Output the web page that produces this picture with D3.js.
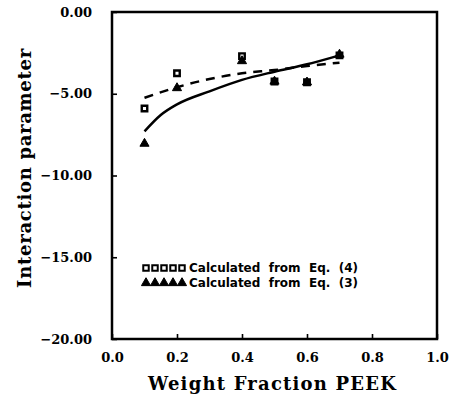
<!DOCTYPE html>
<html>
<head>
<meta charset="utf-8">
<script src="https://cdn.jsdelivr.net/npm/d3@7"></script>
<style>
  body { margin: 0; background: #fff; }
  text { fill: #000; }
</style>
</head>
<body>
<script>
// #Data
const eq4X = [0.10, 0.20, 0.40, 0.50, 0.60, 0.70];
const eq4Y = [-5.9, -3.75, -2.7, -4.25, -4.3, -2.65];
const eq3X = [0.10, 0.20, 0.40, 0.50, 0.60, 0.70];
const eq3Y = [-8.05, -4.65, -3.0, -4.25, -4.3, -2.6];

// fitted curves
const solidX = [0.10, 0.15, 0.20, 0.30, 0.40, 0.50, 0.60, 0.70];
const solidY = [-7.3, -6.3, -5.65, -4.85, -4.15, -3.65, -3.2, -2.65];
const dashX = [0.10, 0.20, 0.30, 0.40, 0.50, 0.60, 0.70];
const dashY = [-5.25, -4.6, -4.1, -3.75, -3.55, -3.3, -3.1];

const xTicks = [0.0, 0.2, 0.4, 0.6, 0.8, 1.0];
const yTicks = [0, -5, -10, -15, -20];
const legendLabels = ['Calculated  from  Eq.  (4)', 'Calculated  from  Eq.  (3)'];

// #Define SVG
const width = 453, height = 396;
const svg = d3.select('body')
              .append('svg')
              .attr('width', width)
              .attr('height', height);

const plotL = 112, plotR = 437, plotT = 12, plotB = 339;

const x = d3.scaleLinear().domain([0, 1]).range([plotL, plotR]);
const y = d3.scaleLinear().domain([-20, 0]).range([plotB, plotT]);

const font = '"DejaVu Serif", "Liberation Serif", serif';

// #Axes
const xAxis = d3.axisBottom(x)
                .tickValues(xTicks)
                .tickSize(-5)
                .tickFormat(d3.format('.1f'));
const yAxis = d3.axisLeft(y)
                .tickValues(yTicks)
                .tickSize(-5)
                .tickFormat(d3.format('.2f'));

const gx = svg.append('g')
              .attr('transform', 'translate(0,' + plotB + ')')
              .call(xAxis);
gx.select('.domain').remove();
gx.selectAll('line').attr('stroke', '#000').attr('stroke-width', 1.6);
gx.selectAll('text')
  .attr('y', 14)
  .attr('dy', '0.71em')
  .style('font-family', font)
  .style('font-weight', 'bold')
  .style('font-size', '13px');

const gy = svg.append('g')
              .attr('transform', 'translate(' + plotL + ',0)')
              .call(yAxis);
gy.select('.domain').remove();
gy.selectAll('line').attr('stroke', '#000').attr('stroke-width', 1.6);
gy.selectAll('text')
  .attr('x', -20)
  .style('font-family', font)
  .style('font-weight', 'bold')
  .style('font-size', '13px')
  .text(d => d3.format('.2f')(d).replace('-', '\u2212'));

// #Frame
svg.append('rect')
   .attr('x', plotL)
   .attr('y', plotT)
   .attr('width', plotR - plotL)
   .attr('height', plotB - plotT)
   .attr('fill', 'none')
   .attr('stroke', '#000')
   .attr('stroke-width', 2.5);

// #Axis titles
svg.append('text')
   .attr('x', (plotL + plotR) / 2 - 2)
   .attr('y', 390)
   .attr('text-anchor', 'middle')
   .style('font-family', font)
   .style('font-weight', 'bold')
   .style('font-size', '18px')
   .style('letter-spacing', '1.2px')
   .text('Weight Fraction PEEK');

svg.append('text')
   .attr('transform', 'translate(31,168) rotate(-90)')
   .attr('text-anchor', 'middle')
   .style('font-family', font)
   .style('font-weight', 'bold')
   .style('font-size', '18px')
   .style('letter-spacing', '0.7px')
   .text('Interaction parameter');

// #Curves
const line = d3.line()
               .x(d => x(d[0]))
               .y(d => y(d[1]))
               .curve(d3.curveMonotoneX);

svg.append('path')
   .datum(d3.zip(solidX, solidY))
   .attr('d', line)
   .attr('fill', 'none')
   .attr('stroke', '#000')
   .attr('stroke-width', 2.5);

svg.append('path')
   .datum(d3.zip(dashX, dashY))
   .attr('d', line)
   .attr('fill', 'none')
   .attr('stroke', '#000')
   .attr('stroke-width', 2.5)
   .attr('stroke-dasharray', '9,7');

// #Markers
const square = d3.symbol().type(d3.symbolSquare).size(30);
const triangle = d3.symbol().type(d3.symbolTriangle).size(36);

svg.append('g')
   .selectAll('path')
   .data(d3.zip(eq4X, eq4Y))
   .enter()
   .append('path')
   .attr('d', square)
   .attr('transform', d => 'translate(' + x(d[0]) + ',' + y(d[1]) + ')')
   .attr('fill', '#fff')
   .attr('stroke', '#000')
   .attr('stroke-width', 2.4);

svg.append('g')
   .selectAll('path')
   .data(d3.zip(eq3X, eq3Y))
   .enter()
   .append('path')
   .attr('d', triangle)
   .attr('transform', d => 'translate(' + x(d[0]) + ',' + y(d[1]) + ')')
   .attr('fill', '#000')
   .attr('stroke', '#000')
   .attr('stroke-width', 1);

// #Legend
const legend = svg.append('g').attr('transform', 'translate(146,268)');
const legendSyms = [square, triangle];
legendLabels.forEach((label, i) => {
    const row = legend.append('g').attr('transform', 'translate(0,' + (i * 15) + ')');
    row.selectAll('path')
       .data(d3.range(5))
       .enter()
       .append('path')
       .attr('d', legendSyms[i])
       .attr('transform', k => 'translate(' + (k * 9) + ',0)')
       .attr('fill', i === 0 ? '#fff' : '#000')
       .attr('stroke', '#000')
       .attr('stroke-width', i === 0 ? 2 : 1);
    row.append('text')
       .attr('x', 43)
       .attr('dy', '0.35em')
       .style('font-family', '"DejaVu Sans", sans-serif')
       .style('font-weight', 'bold')
       .style('font-size', '12px')
       .style('white-space', 'pre')
       .text(label);
});
</script>
</body>
</html>
